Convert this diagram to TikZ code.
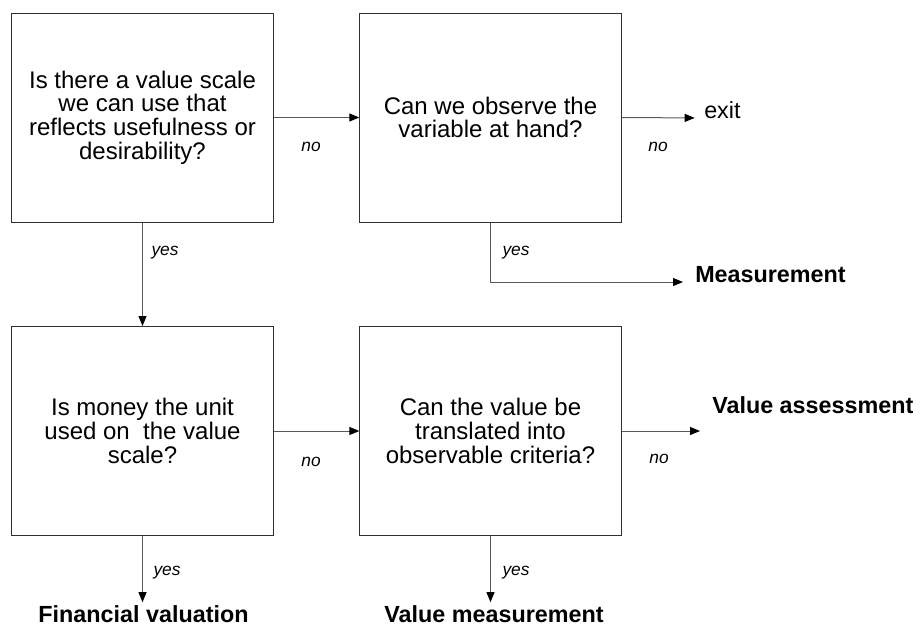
\documentclass[tikz,border=0pt]{standalone}
\usepackage{fontspec}
\setmainfont{Liberation Sans}
\usetikzlibrary{arrows.meta,positioning}
\definecolor{boxline}{HTML}{303030}
\definecolor{linkline}{HTML}{5A5A5A}
\tikzset{
  qbox/.style={draw=boxline, line width=0.75pt, align=center,
    minimum width=196pt, minimum height=156.75pt, inner sep=0pt,
    font=\fontsize{18}{17.75}\selectfont},
  outcome/.style={inner sep=0pt, font=\fontsize{17.5}{20}\selectfont\bfseries},
  plain/.style={inner sep=0pt, font=\fontsize{17.5}{20}\selectfont},
  ans/.style={inner sep=0pt, font=\fontsize{13}{15}\selectfont\itshape},
  arr/.style={-{Triangle[length=7.5pt, width=6pt, color=black]},
    line width=0.75pt, draw=linkline}
}
\begin{document}
\begin{tikzpicture}[x=0.75pt,y=-0.75pt]
  \useasboundingbox (0,0) rectangle (922,629);
  % questions
  \node[qbox] (scale) at (142.5,117.5) {Is there a value scale\\we can use that\\reflects usefulness or\\desirability?};
  \node[qbox] (observe) at (490.5,117.5) {Can we observe the\\variable at hand?};
  \node[qbox] (money) at (142.5,431) {Is money the unit\\used on~ the value\\scale?};
  \node[qbox] (criteria) at (490.5,431) {Can the value be\\translated into\\observable criteria?};
  % outcomes
  \node[plain, anchor=base west] (exit) at (704,118) {exit};
  \node[outcome, anchor=base west] (meas) at (695,282) {Measurement};
  \node[outcome, anchor=base west] (assess) at (712,413) {Value assessment};
  \node[outcome, anchor=base] (finval) at (143.5,622) {Financial valuation};
  \node[outcome, anchor=base] (valmeas) at (494,622) {Value measurement};
  \coordinate (assessend) at (700,431);
  % connectors
  \draw[arr] (scale) -- (observe);
  \draw[arr] (scale) -- (money);
  \draw[arr, shorten >=7pt] (observe.east) -- (exit.base west);
  \draw[arr, shorten >=9pt] (observe.south) |- (meas.base west);
  \draw[arr] (money) -- (criteria);
  \draw[arr] (criteria.east) -- (assessend);
  \draw[arr, shorten >=2pt] (money.south) -- (money.south |- finval.north);
  \draw[arr, shorten >=2pt] (criteria.south) -- (criteria.south |- valmeas.north);
  % answers
  \node[ans] (no1) at (311,147) {no};
  \node[ans] (no2) at (658,147) {no};
  \node[ans] (yes1) at (165,253) {yes};
  \node[ans] (yes2) at (516,253) {yes};
  \node[ans] (no3) at (311,462) {no};
  \node[ans] (no4) at (659,459) {no};
  \node[ans] (yes3) at (167,573) {yes};
  \node[ans] (yes4) at (516,573) {yes};
\end{tikzpicture}
\end{document}
